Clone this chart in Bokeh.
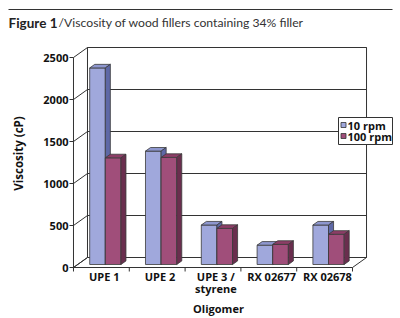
from bokeh.plotting import figure
from bokeh.models import Range1d
from bokeh.core.properties import value
from bokeh.embed import file_html
from bokeh.resources import INLINE
import math

# ---- data ----
categories = ["UPE 1", "UPE 2", "UPE 3 /\nstyrene", "RX 02677", "RX 02678"]
series_names = ["10 rpm", "100 rpm"]
rpm10 = [2340, 1350, 470, 230, 470]
rpm100 = [1270, 1275, 430, 240, 360]
y_ticks = [0, 500, 1000, 1500, 2000, 2500]
title_bold = "Figure 1"
title_rest = "/Viscosity of wood fillers containing 34% filler"
x_title = "Oligomer"
y_title = "Viscosity (cP)"

# ---- styling / layout ----
W, H = 400, 318
X0, X1 = -1.308, 5.860       # data x across the canvas
Y0, Y1 = -607.1, 3178.6      # data y across the canvas
DX, DY = 0.251, 119.0        # depth offset of the 3-D box
F0, F1 = 0.30, 0.66          # bar depth (front, back) fractions
BW, BOFF = 0.28, 0.215       # bar width and left gap inside a category
FACE = [("#A0A8DC", "#8E97CF", "#5E68A6"), ("#A04E7A", "#8C3D66", "#6A2E4E")]
LINE = "#333333"
FONT = "Open Sans"
TFONT = "Lato"


def px(x):
    return X0 + x / W * (X1 - X0)


def py(y):
    return Y1 - y / H * (Y1 - Y0)


def dpx(d):
    return d / W * (X1 - X0)


def dpy(d):
    return d / H * (Y1 - Y0)


p = figure(width=W, height=H, output_backend="svg", toolbar_location=None,
           x_range=Range1d(X0, X1), y_range=Range1d(Y0, Y1),
           min_border=0, outline_line_color=None)
p.axis.visible = False
p.grid.visible = False
p.background_fill_color = "white"

n = len(categories)
ymax = y_ticks[-1]

# top rule
p.segment(x0=[px(8)], y0=[py(9)], x1=[px(392)], y1=[py(9)], line_color="#333333", line_width=1)

# floor
p.patch([0, n, n + DX, DX], [0, 0, DY, DY], fill_color="white", line_color=LINE, line_width=1)
# back wall
p.patch([DX, n + DX, n + DX, DX], [DY, DY, ymax + DY, ymax + DY], fill_color="white",
        line_color=LINE, line_width=1)
# back wall grid lines
p.segment(x0=[DX] * len(y_ticks), y0=[v + DY for v in y_ticks],
          x1=[n + DX] * len(y_ticks), y1=[v + DY for v in y_ticks], line_color=LINE, line_width=1)
# left wall lines
p.segment(x0=[0] * len(y_ticks), y0=y_ticks, x1=[DX] * len(y_ticks),
          y1=[v + DY for v in y_ticks], line_color=LINE, line_width=1)
p.segment(x0=[0], y0=[0], x1=[0], y1=[ymax], line_color=LINE, line_width=1)
# y tick marks
p.segment(x0=[-dpx(4)] * len(y_ticks), y0=y_ticks, x1=[0] * len(y_ticks), y1=y_ticks,
          line_color=LINE, line_width=1)
# x tick marks
xt = list(range(n + 1))
p.segment(x0=xt, y0=[0] * len(xt), x1=xt, y1=[-dpy(4)] * len(xt), line_color=LINE, line_width=1)

# bars
xs, ys, cols = [], [], []
ox0, oy0 = F0 * DX, F0 * DY
ox1, oy1 = F1 * DX, F1 * DY
for i in range(n):
    for s, vals in enumerate([rpm10, rpm100]):
        v = vals[i]
        a = i + BOFF + s * BW
        b = a + BW
        front, top, side = FACE[s]
        xs.append([a + ox0, b + ox0, b + ox0, a + ox0])
        ys.append([oy0, oy0, v + oy0, v + oy0])
        cols.append(front)
        xs.append([a + ox0, b + ox0, b + ox1, a + ox1])
        ys.append([v + oy0, v + oy0, v + oy1, v + oy1])
        cols.append(top)
        xs.append([b + ox0, b + ox1, b + ox1, b + ox0])
        ys.append([oy0, oy1, v + oy1, v + oy0])
        cols.append(side)
p.patches(xs, ys, fill_color=cols, line_color="#3a3a3a", line_width=0.8)

# y tick labels
p.text(x=[-dpx(5)] * len(y_ticks), y=y_ticks, text=[str(v) for v in y_ticks],
       text_font=value(FONT), text_font_style="bold", text_font_size="11px",
       text_align="right", text_baseline="middle", text_color="#111111")
# x tick labels (one glyph per text line)
lx, ly, lt = [], [], []
for i, c in enumerate(categories):
    for k, part in enumerate(c.split("\n")):
        lx.append(i + 0.55)
        ly.append(py(276 + 11.5 * k))
        lt.append(part)
p.text(x=lx, y=ly, text=lt, text_font=value(FONT), text_font_style="bold",
       text_font_size="11px", text_align="center", text_baseline="middle", text_color="#111111")
# axis titles
p.text(x=[px(218)], y=[py(308)], text=[x_title], text_font=value(FONT), text_font_style="bold",
       text_font_size="11px", text_align="center", text_baseline="middle", text_color="#111111")
p.text(x=[px(18)], y=[py(153)], text=[y_title], angle=math.pi / 2, text_font=value(FONT),
       text_font_style="bold", text_font_size="11.5px", text_align="center",
       text_baseline="middle", text_color="#111111")

# chart title
p.text(x=[px(8)], y=[py(22)], text=[title_bold], text_font=value(TFONT), text_font_style="bold",
       text_font_size="13.5px", text_align="left", text_baseline="middle", text_color="#222222")
p.text(x=[px(58)], y=[py(22)], text=[title_rest], text_font=value(TFONT),
       text_font_size="12.2px", text_align="left", text_baseline="middle", text_color="#333333")

# legend
p.quad(left=[px(338)], right=[px(392)], top=[py(117)], bottom=[py(144)],
       fill_color="white", line_color=LINE, line_width=1)
p.scatter(x=[px(343)] * 2, y=[py(124.5), py(135.5)], marker="square", size=5,
          fill_color=[FACE[0][0], FACE[1][0]], line_color="#333333", line_width=0.8)
p.text(x=[px(347)] * 2, y=[py(124.5), py(135.5)], text=series_names, text_font=value(FONT),
       text_font_style="bold", text_font_size="11px", text_align="left",
       text_baseline="middle", text_color="#111111")

open("out.html", "w").write(file_html(p, INLINE))
